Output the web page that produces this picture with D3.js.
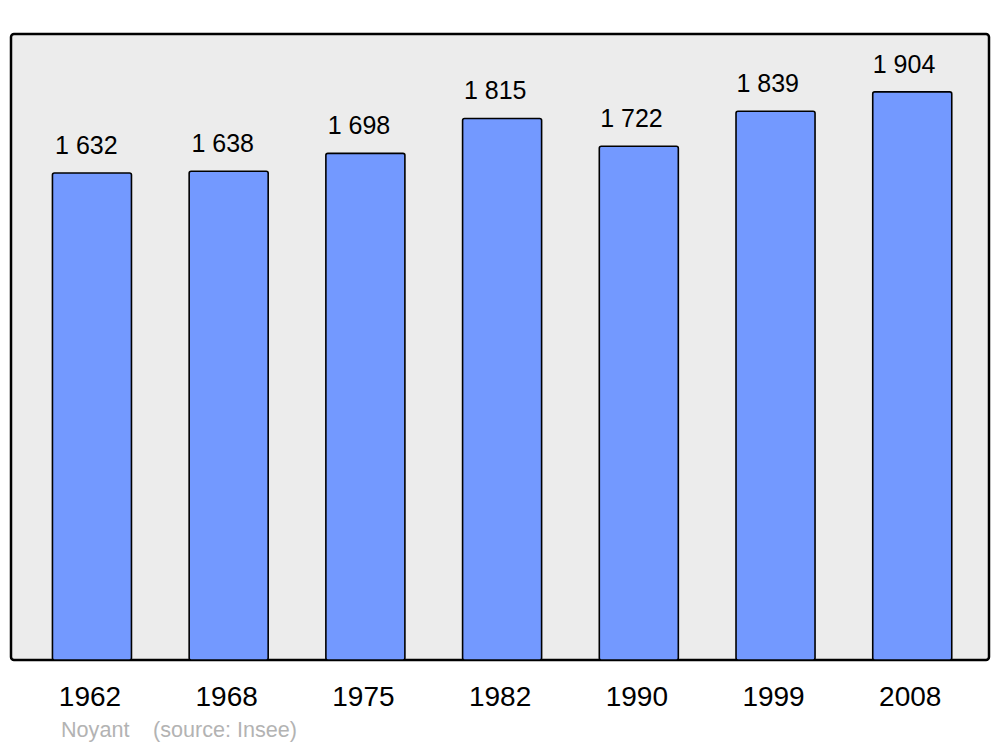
<!DOCTYPE html>
<html><head><meta charset="utf-8">
<script src="https://cdn.jsdelivr.net/npm/d3@7"></script>
<style>body{margin:0;background:#fff}svg{display:block}text{font-family:"Liberation Sans",Arial,sans-serif}</style>
</head><body><svg id="c" width="1000" height="747"></svg>
<script>
const years = ["1962","1968","1975","1982","1990","1999","2008"];
const population = [1632,1638,1698,1815,1722,1839,1904];
const valueLabels = ["1 632","1 638","1 698","1 815","1 722","1 839","1 904"];
const footerLeft = "Noyant";
const footerRight = "(source: Insee)";

const svg = d3.select("#c");
const x = d3.scaleBand().domain(years).range([23.6, 980.6]).paddingInner(0.422).paddingOuter(0.211);
const xLabel = d3.scalePoint().domain(years).range([86.4, 904]);
const y = d3.scaleLinear().domain([0, 2100]).range([660, 33.4]);

svg.append("rect").attr("x",11).attr("y",34).attr("width",978).attr("height",626)
  .attr("rx",3).attr("fill","#ececec").attr("stroke","#000").attr("stroke-width",2.5);

const g = svg.append("g");
g.selectAll("rect.bar").data(years).join("rect").attr("class","bar")
  .attr("x", d=>x(d)).attr("width", x.bandwidth())
  .attr("y", (d,i)=>y(population[i])).attr("height",(d,i)=>y(0)-y(population[i]))
  .attr("rx",2).attr("fill","#7399ff").attr("stroke","#000").attr("stroke-width",1.6);

g.selectAll("text.val").data(years).join("text").attr("class","val")
  .attr("x", d=>xLabel(d)).attr("y",(d,i)=>y(population[i])-19)
  .attr("text-anchor","middle").attr("font-size",25).attr("fill","#000")
  .text((d,i)=>valueLabels[i]);

const xAxis = svg.append("g").attr("transform","translate(-2,660)")
  .call(d3.axisBottom(x).tickSize(0).tickPadding(0));
xAxis.select(".domain").remove();
xAxis.selectAll("text").attr("y",45.5).attr("dy",null).attr("font-size",28).attr("fill","#000")
  .attr("font-family",'"Liberation Sans",Arial,sans-serif');

svg.append("text").attr("x",61).attr("y",737).attr("font-size",21.6).attr("fill","#b3b3b3").text(footerLeft);
svg.append("text").attr("x",153).attr("y",737).attr("font-size",21.6).attr("fill","#b3b3b3").text(footerRight);
</script></body></html>
